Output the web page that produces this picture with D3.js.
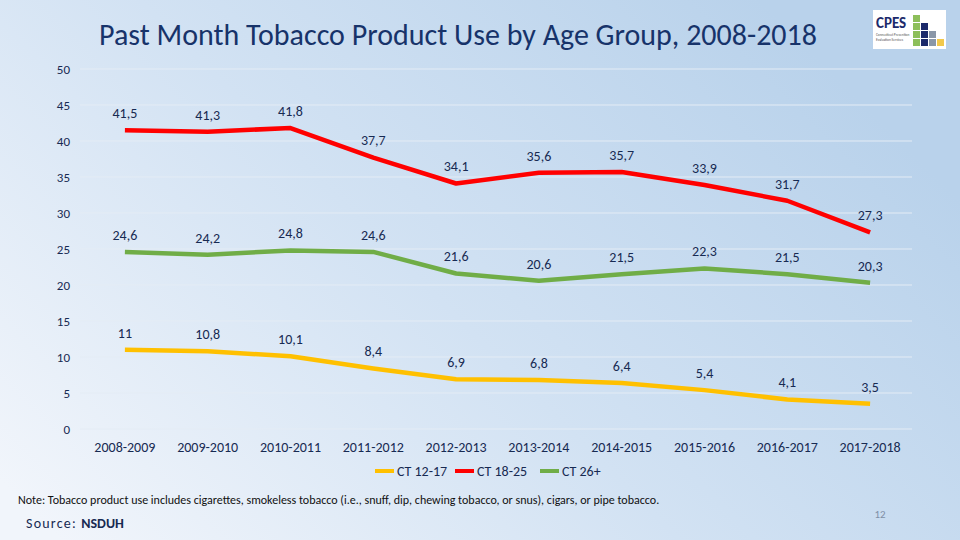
<!DOCTYPE html>
<html><head><meta charset="utf-8">
<script src="https://cdn.jsdelivr.net/npm/d3@7"></script>
<style>
html,body{margin:0;padding:0;overflow:hidden;}
svg{display:block;font-family:Carlito,Lato,"Open Sans",sans-serif;}
</style></head>
<body>
<svg id="chart" width="960" height="540"></svg>
<script>
const categories = ["2008-2009","2009-2010","2010-2011","2011-2012","2012-2013","2013-2014","2014-2015","2015-2016","2016-2017","2017-2018"];
const seriesNames = ["CT 12-17","CT 18-25","CT 26+"];
const ct1217 = [11, 10.8, 10.1, 8.4, 6.9, 6.8, 6.4, 5.4, 4.1, 3.5];
const ct1825 = [41.5, 41.3, 41.8, 37.7, 34.1, 35.6, 35.7, 33.9, 31.7, 27.3];
const ct26p  = [24.6, 24.2, 24.8, 24.6, 21.6, 20.6, 21.5, 22.3, 21.5, 20.3];
const yTicks = [0, 5, 10, 15, 20, 25, 30, 35, 40, 45, 50];
const colors = ["#ffc000", "#ff0000", "#70ad47"];
const titleText = "Past Month Tobacco Product Use by Age Group, 2008-2018";
const noteText = "Note: Tobacco product use includes cigarettes, smokeless tobacco (i.e., snuff, dip, chewing tobacco, or snus), cigars, or pipe tobacco.";

const svg = d3.select("#chart");
const W = 960, H = 540;
const ink = "#172a52";

// background gradient
const defs = svg.append("defs");
const g1 = defs.append("linearGradient").attr("id","bg")
  .attr("gradientUnits","userSpaceOnUse")
  .attr("x1", 80).attr("y1", 560).attr("x2", 700).attr("y2", -60);
g1.append("stop").attr("offset","0").attr("stop-color","#f1f5fb");
g1.append("stop").attr("offset","0.5").attr("stop-color","#d2e2f3");
g1.append("stop").attr("offset","1").attr("stop-color","#b9d2eb");
svg.append("rect").attr("width",W).attr("height",H).attr("fill","url(#bg)");

const x = d3.scaleBand().domain(categories).range([83.5, 911.5]);
const y = d3.scaleLinear().domain([0, 50]).range([429, 69]);
const cx = d => x(d) + x.bandwidth()/2;

// gridlines
svg.append("g").selectAll("line").data(yTicks).join("line")
  .attr("x1", 80).attr("x2", 912)
  .attr("y1", d => y(d)).attr("y2", d => y(d))
  .attr("stroke", "#e4ecf5").attr("stroke-width", 1);

// y axis labels
svg.append("g").selectAll("text").data(yTicks).join("text")
  .attr("x", 70).attr("y", d => y(d)).attr("dy", "0.35em")
  .attr("text-anchor", "end").attr("font-size", 13).attr("fill", ink)
  .text(d => d);

// x axis labels
svg.append("g").selectAll("text").data(categories).join("text")
  .attr("x", d => cx(d)).attr("y", 447).attr("dy", "0.35em")
  .attr("text-anchor", "middle").attr("font-size", 14).attr("fill", ink)
  .text(d => d);

const series = [ct1217, ct1825, ct26p];
const line = d3.line().x((d,i) => cx(categories[i])).y(d => y(d)).curve(d3.curveLinear);
const fmt = v => String(v).replace(".", ",");

series.forEach((vals, si) => {
  svg.append("path").datum(vals)
    .attr("d", line).attr("fill","none")
    .attr("stroke", colors[si]).attr("stroke-width", 4.5)
    .attr("stroke-linejoin","round");
});
series.forEach((vals, si) => {
  svg.append("g").selectAll("text").data(vals).join("text")
    .attr("x", (d,i) => cx(categories[i]))
    .attr("y", d => y(d) - 17).attr("dy","0.35em")
    .attr("text-anchor","middle").attr("font-size", 14).attr("fill", ink)
    .text(d => fmt(d));
});

// legend
const legX = [375, 455, 540];
const leg = svg.append("g");
seriesNames.forEach((n, i) => {
  leg.append("rect").attr("x", legX[i]).attr("y", 469).attr("width", 19).attr("height", 4).attr("fill", colors[i]);
  leg.append("text").attr("x", legX[i] + 22).attr("y", 471).attr("dy","0.35em")
    .attr("font-size", 14).attr("fill", ink).text(n);
});

// title
svg.append("text").attr("x", 458).attr("y", 34).attr("dy","0.35em")
  .attr("text-anchor","middle").attr("font-size", 30).attr("fill", "#17336a").text(titleText);

// note & source
svg.append("text").attr("x", 18).attr("y", 500).attr("dy","0.35em")
  .attr("font-size", 12).attr("fill", "#111").text(noteText);
const src = svg.append("text").attr("x", 26).attr("y", 523).attr("dy","0.35em")
  .attr("font-size", 14).attr("fill", ink);
src.append("tspan").attr("letter-spacing", 1.2).text("Source: ");
src.append("tspan").attr("font-weight","bold").text("NSDUH");

// slide number
svg.append("text").attr("x", 880).attr("y", 514).attr("dy","0.35em")
  .attr("text-anchor","middle").attr("font-size", 11).attr("fill", "#7f8fa6").text("12");

// logo
const logo = svg.append("g");
logo.append("rect").attr("x", 873).attr("y", 10).attr("width", 73).attr("height", 39).attr("fill", "#ffffff");
logo.append("text").attr("x", 876).attr("y", 23).attr("dy","0.35em")
  .attr("font-size", 15).attr("font-weight","bold").attr("fill","#1c2a6b").text("CPES");
logo.append("text").attr("x", 876).attr("y", 36).attr("font-size", 3.5).attr("fill","#555").text("Connecticut Prevention");
logo.append("text").attr("x", 876).attr("y", 41).attr("font-size", 3.5).attr("fill","#555").text("Evaluation Services");
const cells = [
  [0,0,"#8dbf5a"],
  [0,1,"#8dbf5a"],[1,1,"#1c2a6b"],
  [0,2,"#8dbf5a"],[1,2,"#1c2a6b"],[2,2,"#8a97a8"],
  [0,3,"#8dbf5a"],[1,3,"#1c2a6b"],[2,3,"#8a97a8"],[3,3,"#f2c94c"]
];
logo.selectAll("rect.c").data(cells).join("rect").attr("class","c")
  .attr("x", d => 913 + d[0]*8).attr("y", d => 15 + d[1]*8)
  .attr("width", 7).attr("height", 7).attr("fill", d => d[2]);
</script>
</body></html>
